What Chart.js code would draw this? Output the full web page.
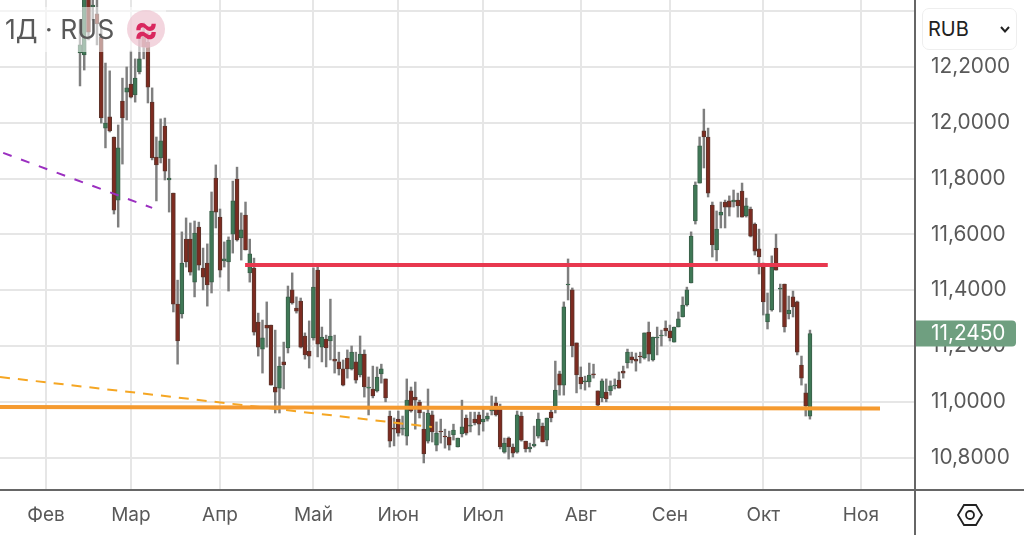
<!DOCTYPE html>
<html>
<head>
<meta charset="utf-8">
<title>RUS</title>
<style>
    html, body { margin: 0; padding: 0; background: #fff; overflow: hidden; }
    #wrap { position: relative; width: 1024px; height: 535px; font-family: Inter, sans-serif; }
    #title {
        position: absolute; left: 0; top: 7px; width: 166px; height: 45px;
        background: rgba(255, 255, 255, .55);
        color: #595959; font-size: 26.6px; line-height: 45px; white-space: nowrap; text-indent: 5px;
    }
    #badge {
        position: absolute; left: 127px; top: 10px; width: 38px; height: 38px; border-radius: 50%;
        background: rgba(236, 190, 205, .65);
        color: #d9275e; font-size: 37px; font-weight: 700; line-height: 38px; text-align: center;
    }
    #currency {
        position: absolute; left: 922px; top: 8px; width: 95px; height: 42px; box-sizing: border-box;
        background: #fff; border: 1px solid #eee; border-radius: 7px;
        color: #222; font-size: 20px; line-height: 40px; padding-left: 5px;
    }
    #currency svg { position: absolute; left: 76px; top: 16px; }
    #settings { position: absolute; left: 956px; top: 502px; }
</style>
</head>
<body>
<div id="wrap">
    <canvas id="chart" width="1024" height="535"></canvas>
    <div id="title">1Д · RUS</div>
    <div id="badge">≈</div>
    <div id="currency">RUB
        <svg width="12" height="9" viewBox="0 0 12 9"><path d="M2 2 L6 6.5 L10 2" fill="none" stroke="#222" stroke-width="2"/></svg>
    </div>
    <svg id="settings" width="28" height="26" viewBox="0 0 28 26">
        <path d="M8 3 H20 L26 13 L20 23 H8 L2 13 Z" fill="none" stroke="#222" stroke-width="1.8"/>
        <circle cx="14" cy="13" r="4" fill="none" stroke="#222" stroke-width="1.8"/>
    </svg>
</div>
<script src="https://cdn.jsdelivr.net/npm/chart.js@4/dist/chart.umd.js"></script>
<script>
    // one entry per trading day, only the days visible in the picture
    const opens = [12.250,12.243,12.462,12.415,12.390,12.307,11.981,12.021,11.949,11.723,12.078,12.110,12.139,12.100,12.182,12.315,12.289,12.074,11.877,11.874,11.988,11.795,11.748,11.350,11.315,11.583,11.583,11.429,11.626,11.479,11.497,11.429,11.802,11.662,11.505,11.501,11.601,11.798,11.587,11.669,11.462,11.479,11.286,11.189,11.275,11.275,11.053,11.049,11.143,11.193,11.401,11.336,11.361,11.236,11.182,11.229,11.472,11.196,11.225,11.218,11.153,11.143,11.118,11.157,11.118,11.143,11.096,11.171,11.049,11.046,11.039,11.100,11.082,10.949,10.906,10.938,10.902,10.877,11.039,11.017,10.999,10.902,10.859,10.953,10.845,10.895,10.877,10.874,10.881,10.838,10.885,10.942,10.913,10.938,10.953,10.928,10.938,10.967,10.996,10.974,10.820,10.870,10.838,10.820,10.949,10.859,10.831,10.842,10.877,10.913,10.863,10.963,10.978,11.100,11.060,11.419,11.401,11.211,11.089,11.071,11.071,11.100,11.039,11.014,11.035,11.039,11.057,11.078,11.110,11.139,11.161,11.153,11.164,11.157,11.250,11.150,11.229,11.236,11.264,11.254,11.214,11.268,11.304,11.347,11.426,11.648,11.784,11.971,11.949,11.705,11.544,11.669,11.716,11.720,11.716,11.723,11.755,11.666,11.691,11.637,11.548,11.497,11.286,11.329,11.551,11.404,11.422,11.315,11.376,11.358,11.132,11.032,10.949];
    const closes = [12.279,12.469,12.325,12.422,12.354,12.017,11.999,11.971,11.687,11.910,12.017,12.125,12.092,12.160,12.229,12.272,12.128,11.874,11.849,11.935,11.827,11.802,11.350,11.218,11.497,11.501,11.465,11.605,11.490,11.447,11.419,11.684,11.680,11.472,11.512,11.580,11.720,11.580,11.616,11.544,11.530,11.250,11.196,11.229,11.264,11.060,11.035,11.128,11.132,11.376,11.354,11.325,11.196,11.168,11.164,11.411,11.207,11.232,11.193,11.236,11.146,11.118,11.060,11.118,11.178,11.078,11.171,11.053,11.053,11.021,11.089,11.118,11.014,10.859,10.902,10.888,10.906,11.006,10.967,11.006,10.960,10.813,10.960,10.892,10.888,10.892,10.874,10.845,10.899,10.870,10.910,10.888,10.917,10.924,10.920,10.938,10.949,10.974,10.953,10.838,10.852,10.838,10.816,10.953,10.863,10.831,10.838,10.849,10.938,10.856,10.942,10.942,11.042,11.060,11.340,11.422,11.200,11.096,11.064,11.075,11.096,11.096,10.988,11.075,11.010,11.057,11.060,11.049,11.103,11.178,11.150,11.146,11.161,11.247,11.171,11.232,11.232,11.239,11.254,11.229,11.268,11.297,11.347,11.401,11.594,11.777,11.917,11.949,11.748,11.562,11.619,11.680,11.698,11.698,11.723,11.702,11.662,11.702,11.594,11.540,11.519,11.358,11.315,11.483,11.472,11.408,11.268,11.329,11.340,11.178,11.085,10.985,11.245];
    const highs = [12.368,12.483,12.483,12.451,12.447,12.343,12.214,12.186,11.949,11.992,12.160,12.200,12.257,12.229,12.304,12.358,12.322,12.125,11.949,12.014,12.017,11.870,11.748,11.436,11.609,11.659,11.641,11.648,11.644,11.551,11.566,11.752,11.849,11.691,11.573,11.591,11.791,11.841,11.677,11.716,11.583,11.515,11.318,11.293,11.358,11.275,11.257,11.161,11.214,11.415,11.462,11.376,11.372,11.247,11.290,11.480,11.483,11.268,11.239,11.368,11.239,11.178,11.150,11.186,11.200,11.178,11.236,11.186,11.089,11.128,11.125,11.135,11.082,10.967,10.942,10.967,10.949,11.082,11.053,11.071,11.006,10.963,11.046,10.967,10.928,10.938,10.902,10.895,10.920,10.870,11.006,10.953,10.963,10.963,10.963,10.974,10.960,11.021,11.017,10.992,10.870,10.874,10.849,10.967,10.963,10.859,10.852,10.913,10.960,10.924,10.942,10.978,11.146,11.110,11.358,11.512,11.408,11.211,11.125,11.092,11.139,11.135,11.039,11.082,11.082,11.075,11.082,11.107,11.128,11.189,11.178,11.175,11.178,11.247,11.286,11.232,11.268,11.257,11.290,11.275,11.268,11.322,11.376,11.411,11.609,11.788,11.949,12.049,11.981,11.716,11.684,11.716,11.723,11.738,11.759,11.748,11.784,11.730,11.698,11.641,11.619,11.497,11.390,11.523,11.601,11.422,11.422,11.379,11.397,11.361,11.164,11.064,11.257];
    const lows = [12.132,12.189,12.297,12.368,12.279,11.999,11.910,11.967,11.673,11.626,11.852,12.010,12.089,12.074,12.175,12.229,12.071,11.867,11.720,11.856,11.795,11.680,11.322,11.135,11.300,11.483,11.454,11.376,11.472,11.401,11.343,11.390,11.623,11.447,11.483,11.397,11.533,11.576,11.508,11.544,11.429,11.239,11.164,11.103,11.196,11.060,10.960,10.960,11.046,11.175,11.350,11.318,11.193,11.153,11.121,11.221,11.161,11.143,11.125,11.150,11.103,11.096,11.057,11.085,11.114,11.067,11.089,11.017,10.953,11.014,11.035,11.067,11.000,10.838,10.842,10.877,10.881,10.845,10.963,10.902,10.942,10.781,10.852,10.856,10.824,10.852,10.834,10.827,10.863,10.838,10.874,10.881,10.892,10.917,10.881,10.895,10.931,10.953,10.949,10.831,10.816,10.795,10.802,10.816,10.859,10.820,10.820,10.838,10.870,10.856,10.842,10.928,10.960,11.024,11.024,11.365,11.161,11.032,11.046,11.042,11.053,11.085,10.981,11.000,11.000,11.024,11.046,11.049,11.085,11.121,11.139,11.110,11.139,11.153,11.146,11.146,11.168,11.200,11.236,11.218,11.214,11.268,11.304,11.343,11.426,11.637,11.784,11.838,11.734,11.519,11.505,11.623,11.623,11.666,11.698,11.662,11.662,11.662,11.591,11.526,11.458,11.311,11.261,11.325,11.472,11.322,11.250,11.297,11.304,11.168,11.060,10.949,10.938];

    const lastPrice = 11.245;

    // month ticks, in trading days counted from the first candle
    const monthTicks = [-8, 12, 33, 55, 75, 95, 118, 139, 161, 184];
    const monthLabels = ["Фев", "Мар", "Апр", "Май", "Июн", "Июл", "Авг", "Сен", "Окт", "Ноя"];
    const priceTicks = [10.8, 11, 11.2, 11.4, 11.6, 11.8, 12, 12.2, 12.4];

    // hand drawn levels, [day, price]
    const redLevel = [[38.9, 11.490], [176.2, 11.490]];
    const orangeLevel = [[-18.85, 10.981], [188.5, 10.976]];
    const purpleTrend = [[-18.1, 11.892], [17, 11.695]];
    const orangeTrend = [[-18.85, 11.089], [82.9, 10.910]];

    const upFill = "#3f7856", upEdge = "#3a5f49";
    const downFill = "#7d2b20", downEdge = "#5c352c";

    const candleX = opens.map((o, i) => i);
    const isUp = opens.map((o, i) => closes[i] >= o);

    function levelDataset(points, color, width, dash) {
        return {
            type: "line",
            data: points.map(p => ({x: p[0], y: p[1]})),
            borderColor: color,
            borderWidth: width,
            borderDash: dash || [],
            borderCapStyle: "butt",
            pointRadius: 0,
            order: dash ? 2 : 1
        };
    }

    // axis lines run past the plot, and the last price tag sits on the axis
    const frame = {
        id: "frame",
        afterDraw(chart) {
            const ctx = chart.ctx;
            const area = chart.chartArea;
            ctx.save();
            ctx.strokeStyle = "#666";
            ctx.lineWidth = 2;
            ctx.beginPath();
            ctx.moveTo(area.right, 0);
            ctx.lineTo(area.right, 535);
            ctx.moveTo(0, area.bottom);
            ctx.lineTo(1024, area.bottom);
            ctx.stroke();

            const y = chart.scales.y.getPixelForValue(lastPrice);
            ctx.fillStyle = "#6f9f80";
            ctx.beginPath();
            ctx.roundRect(area.right + 1, y - 13, 100, 26, [0, 4, 4, 0]);
            ctx.fill();
            ctx.fillStyle = "#fff";
            ctx.font = "20.8px Inter";
            ctx.textAlign = "left";
            ctx.textBaseline = "middle";
            ctx.fillText(lastPrice.toFixed(4).replace(".", ","), area.right + 16, y);
            ctx.restore();
        }
    };

    new Chart("chart", {
        type: "bar",
        data: {
            datasets: [
                levelDataset(redLevel, "#e8384f", 4),
                levelDataset(orangeLevel, "#f59a2f", 4),
                levelDataset(purpleTrend, "#9b2fc0", 2, [9, 10]),
                levelDataset(orangeTrend, "#f5a623", 2, [10, 8]),
                {
                    data: candleX.map(i => ({x: i, y: [opens[i], closes[i]]})),
                    backgroundColor: isUp.map(u => u ? upFill : downFill),
                    borderColor: isUp.map(u => u ? upEdge : downEdge),
                    borderWidth: 1,
                    borderSkipped: false,
                    barThickness: 4,
                    grouped: false,
                    order: 3
                },
                {
                    data: candleX.map(i => ({x: i, y: [lows[i], highs[i]]})),
                    backgroundColor: "#7f7f7f",
                    borderWidth: 0,
                    barThickness: 1.8,
                    grouped: false,
                    order: 4
                }
            ]
        },
        options: {
            responsive: false,
            animation: false,
            layout: {padding: 0, autoPadding: false},
            plugins: {legend: {display: false}, tooltip: {enabled: false}},
            scales: {
                x: {
                    type: "linear",
                    offset: false,
                    min: -18.85,
                    max: 196.75,
                    afterBuildTicks: scale => { scale.ticks = monthTicks.map(v => ({value: v})); },
                    afterFit: scale => { scale.height = 45; },
                    grid: {color: "#e6e6e6", lineWidth: 2, drawTicks: false, offset: false},
                    border: {display: false},
                    ticks: {
                        autoSkip: false,
                        maxRotation: 0,
                        padding: 14,
                        color: "#595959",
                        font: {family: "Inter", size: 19},
                        callback: value => monthLabels[monthTicks.indexOf(value)]
                    }
                },
                y: {
                    position: "right",
                    min: 10.684,
                    max: 12.44,
                    afterBuildTicks: scale => { scale.ticks = priceTicks.map(v => ({value: v})); },
                    afterFit: scale => { scale.width = 109; scale.paddingTop = 0; scale.paddingBottom = 0; },
                    grid: {color: "#e6e6e6", lineWidth: 2, drawTicks: false},
                    border: {display: false},
                    ticks: {
                        autoSkip: false,
                        padding: 16,
                        color: "#595959",
                        font: {family: "Inter", size: 20.8},
                        callback: value => value > 12.3 ? "" : value.toFixed(4).replace(".", ",")
                    }
                }
            }
        },
        plugins: [frame]
    });
</script>
</body>
</html>
